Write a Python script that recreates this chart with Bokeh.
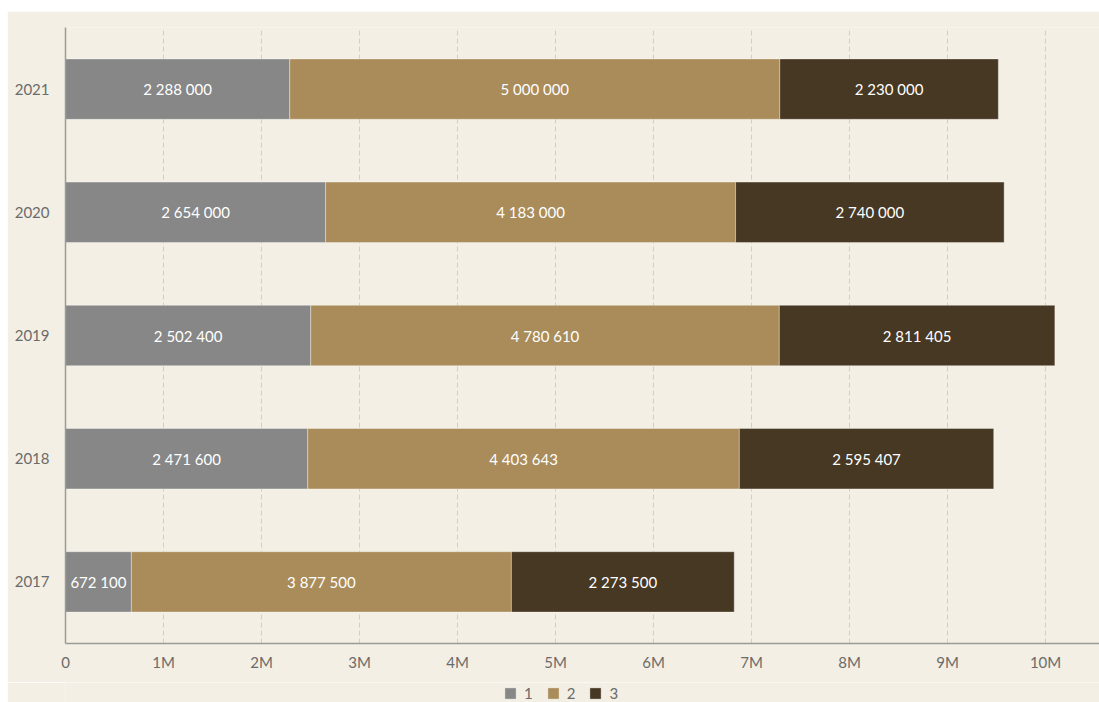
import numpy as np
from bokeh.plotting import figure
from bokeh.models import ColumnDataSource, FactorRange, Range1d, FixedTicker, Spacer
from bokeh.layouts import row, column
from bokeh.core.properties import value
from bokeh.embed import file_html
from bokeh.resources import INLINE

years = ["2017", "2018", "2019", "2020", "2021"]
series_names = ["1", "2", "3"]
s1 = [672100, 2471600, 2502400, 2654000, 2288000]
s2 = [3877500, 4403643, 4780610, 4183000, 5000000]
s3 = [2273500, 2595407, 2811405, 2740000, 2230000]
colors = ["#878787", "#a98c5a", "#473823"]
x_ticks = [0, 1e6, 2e6, 3e6, 4e6, 5e6, 6e6, 7e6, 8e6, 9e6, 10e6]
x_tick_labels = ["0", "1M", "2M", "3M", "4M", "5M", "6M", "7M", "8M", "9M", "10M"]

BG = "#f3efe4"
FONT = "Lato"
TXT = "#6b6b6b"

p = figure(width=1092, height=671, output_backend="svg", toolbar_location=None,
           y_range=FactorRange(factors=years), x_range=Range1d(0, 10.55e6),
           min_border_left=58, min_border_right=0, min_border_top=16, min_border_bottom=39)
p.background_fill_color = BG
p.border_fill_color = BG
p.outline_line_color = None

def fmt(v):
    return f"{int(v):,}".replace(",", " ")

left = np.zeros(len(years))
for name, vals, col in zip(series_names, [s1, s2, s3], colors):
    vals = np.array(vals, dtype=float)
    right = left + vals
    src = ColumnDataSource(dict(y=years, left=left.copy(), right=right.copy(),
                                mid=(left + right) / 2, label=[fmt(v) for v in vals]))
    p.hbar(y="y", left="left", right="right", height=0.49, source=src,
           fill_color=col, line_color="white", line_alpha=0.35, line_width=1)
    p.text(x="mid", y="y", text="label", source=src, text_color="white",
           text_align="center", text_baseline="middle",
           text_font=value(FONT), text_font_size="15px")
    left = right

p.xaxis.ticker = FixedTicker(ticks=x_ticks)
p.xaxis.major_label_overrides = {t: l for t, l in zip(x_ticks, x_tick_labels)}
for ax in (p.xaxis, p.yaxis):
    ax.major_tick_line_color = None
    ax.minor_tick_line_color = None
    ax.axis_line_color = "#9a9a9a"
    ax.axis_line_width = 1.5
    ax.major_label_text_font = FONT
    ax.major_label_text_font_size = "15px"
    ax.major_label_text_color = TXT
p.xaxis.major_label_standoff = 3
p.yaxis.major_label_standoff = 10

p.ygrid.grid_line_color = None
p.xgrid.grid_line_color = "#cfcfcf"
p.xgrid.grid_line_dash = "5 3"
p.xgrid.grid_line_width = 1

# legend strip below the chart (swatches drawn from off-range dummy bars)
q = figure(width=1092, height=20, output_backend="svg", toolbar_location=None,
           x_range=Range1d(0, 1), y_range=Range1d(0, 1),
           x_axis_type=None, y_axis_type=None,
           min_border_left=0, min_border_right=0, min_border_top=0, min_border_bottom=0)
q.background_fill_color = BG
q.border_fill_color = BG
q.outline_line_color = None
q.grid.visible = False
for name, col in zip(series_names, colors):
    q.hbar(y=[-10], left=[0], right=[0.1], height=0.5, fill_color=col,
           line_color="white", line_alpha=0.35, legend_label=name)

lg = q.legend[0]
lg.orientation = "horizontal"
lg.location = (438, 0)
lg.background_fill_alpha = 0
lg.border_line_color = None
lg.padding = 0
lg.margin = 0
lg.spacing = 13
lg.glyph_width = 14
lg.glyph_height = 14
lg.label_height = 14
lg.label_width = 0
lg.label_standoff = 7
lg.label_text_font = FONT
lg.label_text_font_size = "15px"
lg.label_text_color = TXT

layout = row(Spacer(width=7), column(Spacer(height=11), p, q, spacing=0), spacing=0)
open("out.html", "w").write(file_html(layout, INLINE))
